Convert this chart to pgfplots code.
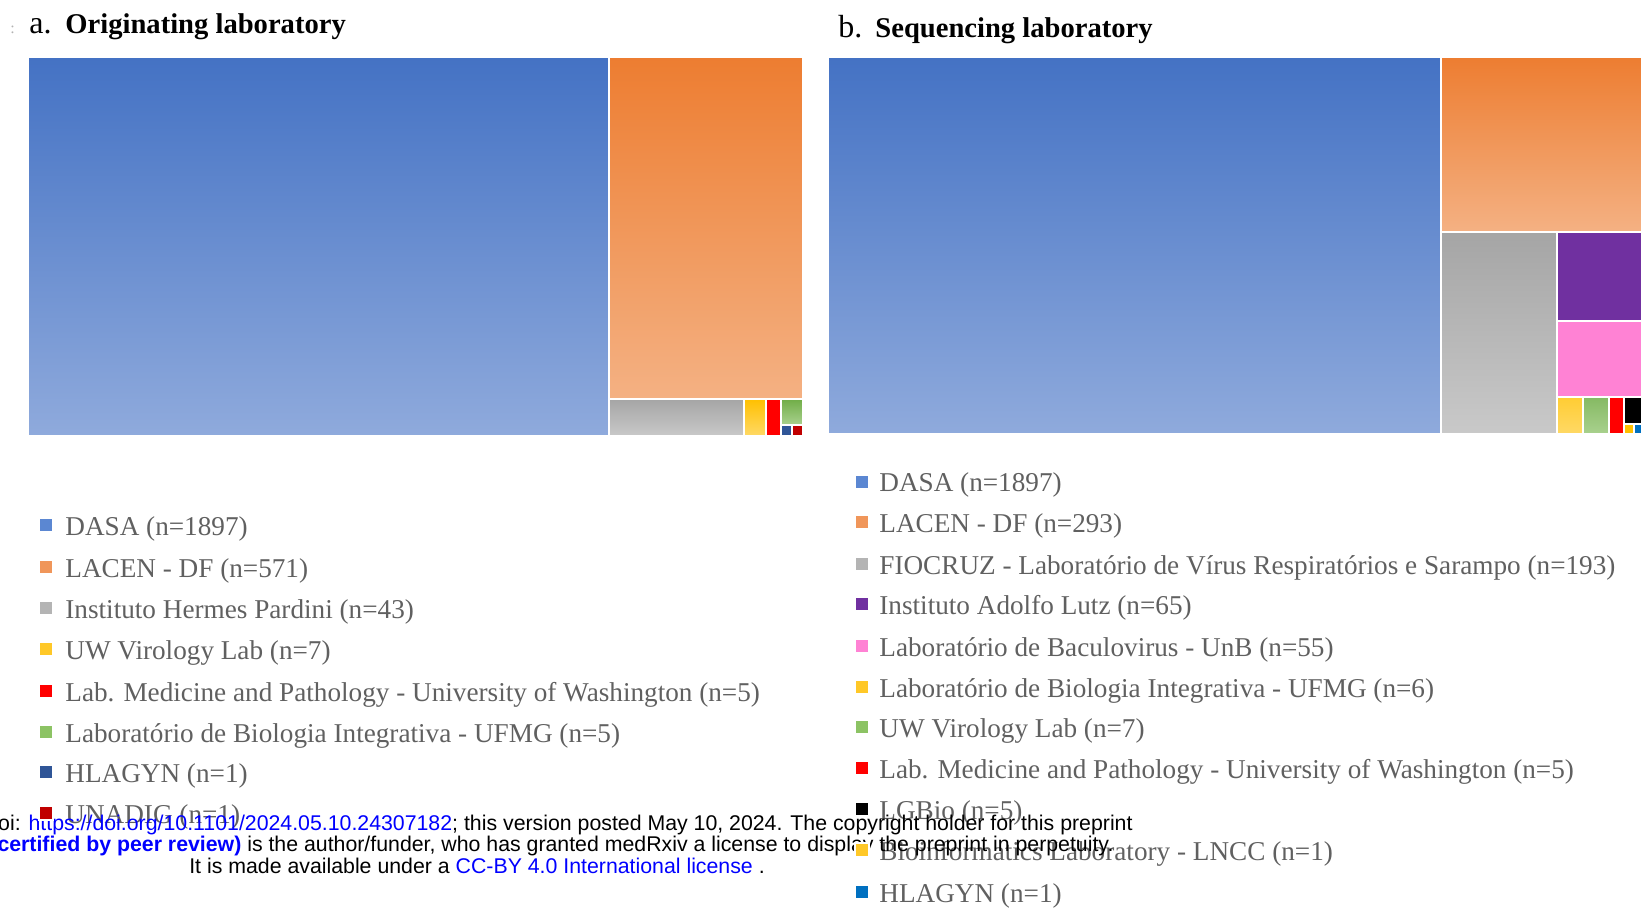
\documentclass[border=0pt]{standalone}
\usepackage{pgfplots}
\pgfplotsset{compat=1.18}
\usepackage{fontspec}
\setmainfont{Liberation Serif}
\newfontfamily\arial{Liberation Sans}

\definecolor{blueT}{RGB}{68,114,196}
\definecolor{blueB}{RGB}{143,170,220}
\definecolor{oraT}{RGB}{237,125,49}
\definecolor{oraB}{RGB}{244,177,131}
\definecolor{grayT}{RGB}{165,165,165}
\definecolor{grayB}{RGB}{201,201,201}
\definecolor{yelT}{RGB}{255,192,0}
\definecolor{yelB}{RGB}{255,217,102}
\definecolor{redc}{RGB}{255,0,0}
\definecolor{greT}{RGB}{112,173,71}
\definecolor{greB}{RGB}{169,209,142}
\definecolor{purp}{RGB}{112,48,160}
\definecolor{pink}{RGB}{255,130,212}
\definecolor{hlaL}{RGB}{47,85,151}
\definecolor{hlaR}{RGB}{0,112,192}
\definecolor{unad}{RGB}{192,0,0}
\definecolor{legtxt}{RGB}{96,96,96}
\definecolor{mkblue}{RGB}{91,135,210}
\definecolor{mkora}{RGB}{240,150,90}
\definecolor{mkgray}{RGB}{180,180,180}
\definecolor{mkyel}{RGB}{255,200,40}
\definecolor{mkgre}{RGB}{140,195,100}
\definecolor{linkblue}{RGB}{0,0,255}

\tikzset{
  legtext/.style={anchor=base west, inner sep=0pt, text=legtxt, font=\fontsize{13.6}{16}\selectfont},
  foot/.style={inner sep=0pt, font=\arial\fontsize{10.65}{12}\selectfont}
}
\pgfplotsset{mk/.style={only marks, mark=square*, mark size=3.5pt, draw=none}}

\begin{document}
\begin{tikzpicture}
\useasboundingbox (0,0) rectangle (820.5pt,455pt);
\clip (0,0) rectangle (820.5pt,455pt);
\begin{axis}[at={(0,0)}, anchor=south west,
  width=820.5pt, height=455pt, scale only axis,
  xmin=0, xmax=1641, ymin=0, ymax=910, y dir=reverse,
  hide axis, clip=false,
  every axis plot/.append style={draw=white, line width=1pt}]

% ---------- a. Originating laboratory ----------
% DASA 1897
\addplot[top color=blueT, bottom color=blueB] coordinates {(28,57) (609,57) (609,436) (28,436)} --cycle;
% LACEN - DF 571
\addplot[top color=oraT, bottom color=oraB] coordinates {(609,57) (803,57) (803,399) (609,399)} --cycle;
% Instituto Hermes Pardini 43
\addplot[top color=grayT, bottom color=grayB] coordinates {(609,399) (744,399) (744,436) (609,436)} --cycle;
% UW Virology Lab 7
\addplot[top color=yelT, bottom color=yelB] coordinates {(744,399) (766,399) (766,436) (744,436)} --cycle;
% Lab. Medicine and Pathology 5
\addplot[fill=redc] coordinates {(766,399) (781,399) (781,436) (766,436)} --cycle;
% Biologia Integrativa UFMG 5
\addplot[top color=greT, bottom color=greB] coordinates {(781,399) (803,399) (803,425) (781,425)} --cycle;
% HLAGYN 1
\addplot[fill=hlaL] coordinates {(781,425) (792,425) (792,436) (781,436)} --cycle;
% UNADIG 1
\addplot[fill=unad] coordinates {(792,425) (803,425) (803,436) (792,436)} --cycle;

% ---------- b. Sequencing laboratory ----------
% DASA 1897
\addplot[top color=blueT, bottom color=blueB] coordinates {(828,57) (1441,57) (1441,434) (828,434)} --cycle;
% LACEN - DF 293
\addplot[top color=oraT, bottom color=oraB] coordinates {(1441,57) (1645,57) (1645,232) (1441,232)} --cycle;
% FIOCRUZ 193
\addplot[top color=grayT, bottom color=grayB] coordinates {(1441,232) (1557,232) (1557,434) (1441,434)} --cycle;
% Instituto Adolfo Lutz 65
\addplot[fill=purp] coordinates {(1557,232) (1645,232) (1645,321) (1557,321)} --cycle;
% Baculovirus UnB 55
\addplot[fill=pink] coordinates {(1557,321) (1645,321) (1645,397) (1557,397)} --cycle;
% Biologia Integrativa UFMG 6
\addplot[top color=yelT!80!white, bottom color=yelB] coordinates {(1557,397) (1583,397) (1583,434) (1557,434)} --cycle;
% UW Virology Lab 7
\addplot[top color=greT!85!white, bottom color=greB] coordinates {(1583,397) (1609,397) (1609,434) (1583,434)} --cycle;
% Lab. Medicine and Pathology 5
\addplot[fill=redc] coordinates {(1609,397) (1624,397) (1624,434) (1609,434)} --cycle;
% LGBio 5
\addplot[fill=black] coordinates {(1624,397) (1645,397) (1645,424) (1624,424)} --cycle;
% Bioinformatics LNCC 1
\addplot[fill=yelT] coordinates {(1624,424) (1634,424) (1634,434) (1624,434)} --cycle;
% HLAGYN 1
\addplot[fill=hlaR] coordinates {(1634,424) (1645,424) (1645,434) (1634,434)} --cycle;

% ---------- legend markers, left ----------
\addplot[mk, mark options={draw=none, fill=mkblue}] coordinates {(46,525)};
\addplot[mk, mark options={draw=none, fill=mkora}] coordinates {(46,567)};
\addplot[mk, mark options={draw=none, fill=mkgray}] coordinates {(46,608)};
\addplot[mk, mark options={draw=none, fill=mkyel}] coordinates {(46,649)};
\addplot[mk, mark options={draw=none, fill=redc}] coordinates {(46,691)};
\addplot[mk, mark options={draw=none, fill=mkgre}] coordinates {(46,732)};
\addplot[mk, mark options={draw=none, fill=hlaL}] coordinates {(46,772)};
\addplot[mk, mark options={draw=none, fill=unad}] coordinates {(46,813)};

% ---------- legend markers, right ----------
\addplot[mk, mark options={draw=none, fill=mkblue}] coordinates {(862,482)};
\addplot[mk, mark options={draw=none, fill=mkora}] coordinates {(862,522)};
\addplot[mk, mark options={draw=none, fill=mkgray}] coordinates {(862,564)};
\addplot[mk, mark options={draw=none, fill=purp}] coordinates {(862,604)};
\addplot[mk, mark options={draw=none, fill=pink}] coordinates {(862,646)};
\addplot[mk, mark options={draw=none, fill=mkyel}] coordinates {(862,687)};
\addplot[mk, mark options={draw=none, fill=mkgre}] coordinates {(862,727)};
\addplot[mk, mark options={draw=none, fill=redc}] coordinates {(862,768)};
\addplot[mk, mark options={draw=none, fill=black}] coordinates {(862,809)};
\addplot[mk, mark options={draw=none, fill=mkyel}] coordinates {(862,850)};
\addplot[mk, mark options={draw=none, fill=hlaR}] coordinates {(862,892)};

% ---------- titles ----------
\node[anchor=base west, inner sep=0pt, font=\fontsize{16}{18}\selectfont] at (axis cs:29,33) {a.};
\node[anchor=base west, inner sep=0pt, font=\fontsize{14.3}{16}\selectfont\bfseries] at (axis cs:65,33) {Originating laboratory};
\node[anchor=base west, inner sep=0pt, font=\fontsize{16}{18}\selectfont] at (axis cs:838,37) {b.};
\node[anchor=base west, inner sep=0pt, font=\fontsize{14.3}{16}\selectfont\bfseries] at (axis cs:875,37) {Sequencing laboratory};
\node[anchor=base west, inner sep=0pt, text=gray!60, font=\fontsize{8}{9}\selectfont] at (axis cs:10,33) {:};

% ---------- legend texts, left ----------
\node[legtext] at (axis cs:65,535) {DASA (n=1897)};
\node[legtext] at (axis cs:65,577) {LACEN - DF (n=571)};
\node[legtext] at (axis cs:65,618) {Instituto Hermes Pardini (n=43)};
\node[legtext] at (axis cs:65,659) {UW Virology Lab (n=7)};
\node[legtext] at (axis cs:65,701) {Lab. Medicine and Pathology - University of Washington (n=5)};
\node[legtext] at (axis cs:65,742) {Laboratório de Biologia Integrativa - UFMG (n=5)};
\node[legtext] at (axis cs:65,782) {HLAGYN (n=1)};
\node[legtext] at (axis cs:65,823) {UNADIG (n=1)};

% ---------- legend texts, right ----------
\node[legtext] at (axis cs:879,491) {DASA (n=1897)};
\node[legtext] at (axis cs:879,532) {LACEN - DF (n=293)};
\node[legtext] at (axis cs:879,574) {FIOCRUZ - Laboratório de Vírus Respiratórios e Sarampo (n=193)};
\node[legtext] at (axis cs:879,614) {Instituto Adolfo Lutz (n=65)};
\node[legtext] at (axis cs:879,656) {Laboratório de Baculovirus - UnB (n=55)};
\node[legtext] at (axis cs:879,697) {Laboratório de Biologia Integrativa - UFMG (n=6)};
\node[legtext] at (axis cs:879,737) {UW Virology Lab (n=7)};
\node[legtext] at (axis cs:879,778) {Lab. Medicine and Pathology - University of Washington (n=5)};
\node[legtext] at (axis cs:879,819) {LGBio (n=5)};
\node[legtext] at (axis cs:879,860) {Bioinformatics Laboratory - LNCC (n=1)};
\node[legtext] at (axis cs:879,902) {HLAGYN (n=1)};

% ---------- medRxiv footer ----------
\node[foot, anchor=base east] at (axis cs:1133,830)
  {medRxiv preprint doi: \textcolor{linkblue}{https://doi.org/10.1101/2024.05.10.24307182}; this version posted May 10, 2024. The copyright holder for this preprint};
\node[foot, anchor=base east] at (axis cs:1114,851)
  {\textcolor{linkblue}{\bfseries (which was not certified by peer review)} is the author/funder, who has granted medRxiv a license to display the preprint in perpetuity.};
\node[foot, anchor=base] at (axis cs:477,873)
  {It is made available under a \textcolor{linkblue}{CC-BY 4.0 International license} .};
\end{axis}
\end{tikzpicture}
\end{document}
